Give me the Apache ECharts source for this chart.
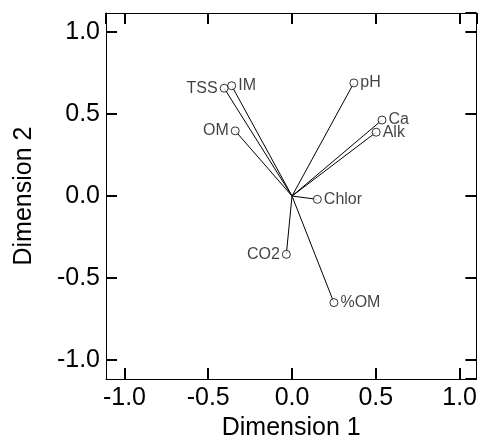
<!DOCTYPE html>
<html>
<head>
<meta charset="utf-8">
<script src="https://cdn.jsdelivr.net/npm/echarts@6/dist/echarts.min.js"></script>
<style>html,body{margin:0;padding:0;background:#fff;}#c{width:480px;height:446px;}</style>
</head>
<body>
<div id="c"></div>
<script>
const variables = ['TSS', 'IM', 'pH', 'OM', 'Ca', 'Alk', 'Chlor', 'CO2', '%OM'];
const dim1 = [-0.405, -0.36, 0.369, -0.339, 0.537, 0.502, 0.151, -0.034, 0.25];
const dim2 = [0.657, 0.672, 0.689, 0.397, 0.463, 0.389, -0.02, -0.355, -0.649];
const labelSide = ['left', 'right', 'right', 'left', 'right', 'right', 'right', 'left', 'right'];

const chart = echarts.init(document.getElementById('c'), null, {renderer: 'canvas'});
const FONT = 'Liberation Sans, Arial, sans-serif';

const points = variables.map((v, i) => ({
  name: v,
  value: [dim1[i], dim2[i]],
  label: {position: labelSide[i]}
}));
const segs = variables.map((v, i) => ({coords: [[0, 0], [dim1[i], dim2[i]]]}));

function axisBase(extra) {
  return Object.assign({
    type: 'value', min: -1.11, max: 1.1, splitNumber: 5,
    splitLine: {show: false},
    axisLine: {show: true, onZero: false, lineStyle: {color: '#000', width: 1}},
    axisTick: {show: true, inside: true, length: 11, lineStyle: {color: '#000', width: 2}},
    axisLabel: {show: false}
  }, extra);
}
function labelStyle(margin) {
  return {show: true, margin: margin, fontFamily: FONT, fontSize: 25, color: '#000',
    showMinLabel: false, showMaxLabel: false,
    formatter: v => v.toFixed(1)};
}

chart.setOption({
  animation: false,
  grid: {left: 106, right: 2, top: 13, bottom: 61, containLabel: false},
  xAxis: [
    axisBase({position: 'bottom',
      name: 'Dimension 1', nameLocation: 'middle', nameGap: 31,
      nameTextStyle: {fontFamily: FONT, fontSize: 25, color: '#000'},
      axisLabel: labelStyle(7)}),
    axisBase({position: 'top'})
  ],
  yAxis: [
    axisBase({position: 'left', min: -1.115, max: 1.115,
      name: 'Dimension 2', nameLocation: 'middle', nameGap: 69, nameRotate: 90,
      nameTextStyle: {fontFamily: FONT, fontSize: 25, color: '#000'},
      axisLabel: labelStyle(6)}),
    axisBase({position: 'right', min: -1.115, max: 1.115})
  ],
  series: [
    {
      type: 'lines', coordinateSystem: 'cartesian2d', xAxisIndex: 0, yAxisIndex: 0,
      data: segs, symbol: 'none',
      lineStyle: {color: '#000', width: 1, opacity: 1}, silent: true
    },
    {
      type: 'scatter', xAxisIndex: 0, yAxisIndex: 0,
      data: points, symbol: 'circle', symbolSize: 8,
      itemStyle: {color: '#fff', borderColor: '#000', borderWidth: 1},
      label: {show: true, formatter: '{b}', fontFamily: FONT, fontSize: 16, color: '#111', distance: 2},
      z: 3
    }
  ]
});
</script>
</body>
</html>
